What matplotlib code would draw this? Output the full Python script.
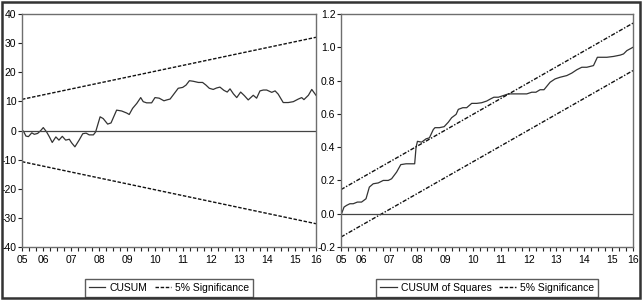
"""CUSUM and CUSUM of squares stability plots (EViews style)"""
import matplotlib
matplotlib.use("Agg")
import matplotlib.pyplot as plt
from matplotlib.patches import Rectangle
from matplotlib.ticker import FixedLocator, MultipleLocator

plt.rcParams["font.family"] = ["Liberation Sans Narrow", "Liberation Sans", "DejaVu Sans"]
plt.rcParams["font.size"] = 7.5
plt.rcParams["axes.unicode_minus"] = False

# ---- data (x in decimal years) ----
cusum_x = [2005.30, 2005.39, 2005.48, 2005.60, 2005.69, 2005.81, 2005.92, 2006.01,
           2006.13, 2006.23, 2006.33, 2006.46, 2006.57, 2006.69, 2006.81, 2006.94,
           2007.02, 2007.14, 2007.29, 2007.42, 2007.54, 2007.65, 2007.80, 2007.88,
           2008.04, 2008.15, 2008.31, 2008.43, 2008.63, 2008.81, 2008.99, 2009.08,
           2009.20, 2009.35, 2009.49, 2009.58, 2009.70, 2009.88, 2010.00, 2010.15,
           2010.32, 2010.42, 2010.54, 2010.65, 2010.83, 2010.99, 2011.11, 2011.23,
           2011.37, 2011.55, 2011.70, 2011.82, 2011.94, 2012.08, 2012.20, 2012.32,
           2012.46, 2012.58, 2012.68, 2012.80, 2012.92, 2013.06, 2013.19, 2013.33,
           2013.51, 2013.63, 2013.75, 2013.87, 2013.99, 2014.17, 2014.29, 2014.40,
           2014.58, 2014.76, 2014.94, 2015.12, 2015.24, 2015.32, 2015.48, 2015.60,
           2015.75]
cusum = [-0.2, -1.9, -2.1, -0.8, -1.3, -1.0, 0.0, 1.0,
         -0.5, -2.2, -4.1, -2.2, -3.3, -2.0, -3.3, -3.0,
         -4.2, -5.6, -3.3, -1.1, -0.9, -1.5, -1.5, -0.5,
         4.7, 4.1, 2.2, 2.6, 7.0, 6.7, 6.0, 5.5,
         7.6, 9.3, 11.3, 9.9, 9.5, 9.5, 11.3, 11.1,
         10.2, 10.5, 10.8, 12.2, 14.5, 14.8, 15.6, 17.1,
         16.9, 16.5, 16.5, 15.6, 14.5, 14.1, 14.6, 14.9,
         13.8, 13.2, 14.3, 12.6, 11.3, 13.2, 12.0, 10.5,
         12.1, 11.1, 13.6, 13.9, 13.9, 13.1, 13.6, 12.5,
         9.6, 9.6, 9.9, 10.8, 11.3, 10.6, 12.1, 14.1,
         12.1]
cusum_bound_x = [2005.25, 2015.75]
cusum_upper = [10.7, 32.0]
cusum_lower = [-10.7, -32.0]

cusumsq_x = [2005.27, 2005.36, 2005.45, 2005.57, 2005.69, 2005.84, 2005.99, 2006.15,
             2006.27, 2006.41, 2006.59, 2006.77, 2006.95, 2007.07, 2007.25, 2007.40,
             2007.59, 2007.73, 2007.90, 2007.95, 2008.00, 2008.15, 2008.31, 2008.43,
             2008.57, 2008.63, 2008.79, 2008.96, 2009.11, 2009.23, 2009.39, 2009.47,
             2009.63, 2009.77, 2009.95, 2010.13, 2010.31, 2010.49, 2010.63, 2010.75,
             2010.91, 2011.09, 2011.27, 2011.45, 2011.69, 2011.93, 2012.11, 2012.26,
             2012.41, 2012.55, 2012.77, 2012.95, 2013.13, 2013.37, 2013.55, 2013.73,
             2013.91, 2014.09, 2014.33, 2014.47, 2014.63, 2014.81, 2015.05, 2015.29,
             2015.41, 2015.53, 2015.75]
cusumsq = [0.0, 0.04, 0.05, 0.06, 0.06, 0.07, 0.07, 0.09,
           0.16, 0.18, 0.185, 0.20, 0.20, 0.21, 0.25, 0.295,
           0.30, 0.30, 0.30, 0.40, 0.435, 0.43, 0.45, 0.456,
           0.506, 0.517, 0.517, 0.523, 0.55, 0.577, 0.597, 0.627,
           0.637, 0.637, 0.663, 0.663, 0.667, 0.677, 0.69, 0.70,
           0.70, 0.71, 0.72, 0.72, 0.72, 0.72, 0.73, 0.73,
           0.745, 0.745, 0.79, 0.81, 0.82, 0.83, 0.845, 0.865,
           0.88, 0.88, 0.89, 0.94, 0.94, 0.94, 0.945, 0.953,
           0.96, 0.98, 1.0]
cusumsq_upper = [0.145, 1.145]
cusumsq_lower = [-0.14, 0.86]

year_ticks = [2005.25, 2006, 2007, 2008, 2009, 2010, 2011, 2012, 2013, 2014, 2015, 2015.75]
year_labels = ["05", "06", "07", "08", "09", "10", "11", "12", "13", "14", "15", "16"]

fig = plt.figure(figsize=(6.43, 3.07), dpi=100)
ax1 = fig.add_axes([0.0342, 0.1954, 0.4572, 0.759])
ax2 = fig.add_axes([0.5303, 0.1954, 0.4541, 0.759])

spine_col = "#6e6e6e"


def style_axis(ax):
    ax.set_xlim(2005.25, 2015.75)
    ax.xaxis.set_major_locator(FixedLocator(year_ticks))
    ax.set_xticklabels(year_labels)
    ax.xaxis.set_minor_locator(MultipleLocator(0.25))
    ax.tick_params(which="both", direction="out", length=3, width=0.8,
                   color="#222222", pad=1, labelsize=7.5)
    ax.tick_params(axis="x", which="both", pad=3)
    for s in ax.spines.values():
        s.set_color(spine_col)
        s.set_linewidth(1.0)


leg_kw = dict(loc="center", bbox_to_anchor=(0.5, -0.176), ncol=2, frameon=True,
              fancybox=False, edgecolor="#333333", fontsize=7.5, handlelength=1.6,
              columnspacing=0.7, handletextpad=0.4, borderpad=0.35)

# left panel: CUSUM
ax1.plot(cusum_x, cusum, color="#333333", lw=0.9, label="CUSUM")
ax1.plot(cusum_bound_x, cusum_upper, color="#111111", lw=1.0,
         dashes=(2.5, 1.2), label="5% Significance")
ax1.plot(cusum_bound_x, cusum_lower, color="#111111", lw=1.0, dashes=(2.5, 1.2))
ax1.axhline(0, color="#444444", lw=0.9)
ax1.set_ylim(-40, 40)
ax1.set_yticks([-40, -30, -20, -10, 0, 10, 20, 30, 40])
style_axis(ax1)
ax1.legend(**leg_kw)

# right panel: CUSUM of squares
ax2.plot(cusumsq_x, cusumsq, color="#333333", lw=0.9, label="CUSUM of Squares")
ax2.plot(cusum_bound_x, cusumsq_upper, color="#111111", lw=1.0,
         dashes=(3.0, 1.2, 1.0, 1.2), label="5% Significance")
ax2.plot(cusum_bound_x, cusumsq_lower, color="#111111", lw=1.0,
         dashes=(3.0, 1.2, 1.0, 1.2))
ax2.axhline(0, color="#444444", lw=0.9)
ax2.set_ylim(-0.2, 1.2)
ax2.set_yticks([-0.2, 0.0, 0.2, 0.4, 0.6, 0.8, 1.0, 1.2])
ax2.set_yticklabels(["-0.2", "0.0", "0.2", "0.4", "0.6", "0.8", "1.0", "1.2"])
style_axis(ax2)
leg = ax2.legend(**leg_kw)
leg.get_lines()[1].set_dashes((2.5, 1.2))

# outer frame round the whole picture
fig.patches.append(Rectangle((2 / 643, 9 / 307), 638 / 643, 296 / 307,
                             transform=fig.transFigure, fill=False,
                             edgecolor="#333333", lw=1.8))

fig.savefig("out.png", dpi=100)
